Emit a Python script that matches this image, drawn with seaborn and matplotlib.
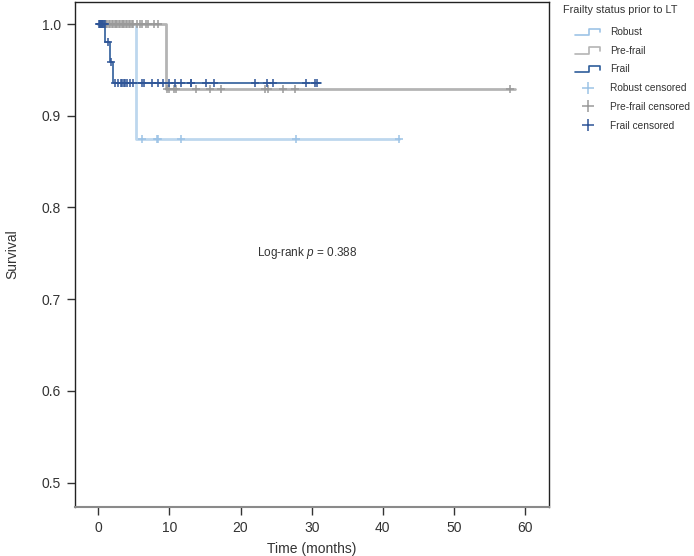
import numpy as np
import pandas as pd
import matplotlib
matplotlib.use("Agg")
import matplotlib.pyplot as plt
import seaborn as sns
from matplotlib.lines import Line2D
from matplotlib.legend_handler import HandlerBase

# ---------------- data ----------------
groups = ["Robust", "Pre-frail", "Frail"]

robust_step_t = [0.0, 5.3, 42.2]
robust_step_s = [1.0, 0.875, 0.875]
prefrail_step_t = [0.0, 9.6, 58.5]
prefrail_step_s = [1.0, 0.929, 0.929]
frail_step_t = [0.0, 1.0, 1.65, 2.15, 31.3]
frail_step_s = [1.0, 0.980, 0.959, 0.936, 0.936]

robust_cens = [6.2, 8.2, 8.4, 11.6, 27.8, 42.2]
prefrail_cens = [1.1, 1.3, 1.5, 1.7, 1.9, 2.1, 2.3, 2.5, 2.7, 2.9, 3.1, 3.3,
                 3.5, 3.7, 3.9, 4.1, 4.3, 4.5, 4.7, 4.9, 5.5, 5.9, 6.2, 6.7,
                 7.0, 7.8, 8.4,
                 9.7, 9.9, 10.6, 11.0, 13.8, 15.7, 17.3, 23.4, 23.8, 26.0,
                 27.6, 57.9]
frail_cens = [0.1, 0.2, 0.3, 0.4, 0.5, 0.6, 0.7, 0.8, 0.9, 1.4, 1.8,
              2.3, 2.8, 3.2, 3.4, 3.6, 3.8, 4.0, 4.5, 4.9, 6.2, 6.5, 7.5,
              8.4, 9.1, 10.0, 10.8, 11.6, 13.0, 13.1, 15.1, 16.3, 22.0,
              23.7, 24.6, 29.2, 30.5, 30.7]

logrank_p = 0.388
x_ticks = [0, 10, 20, 30, 40, 50, 60]
y_ticks = [0.5, 0.6, 0.7, 0.8, 0.9, 1.0]
legend_title = "Frailty status prior to LT"

# ---------------- style ----------------
sns.set_theme(style="white")
plt.rcParams["font.family"] = ["Liberation Sans", "DejaVu Sans"]
plt.rcParams["mathtext.fontset"] = "custom"
plt.rcParams["mathtext.rm"] = "Liberation Sans"
plt.rcParams["mathtext.it"] = "Liberation Sans:italic"
TXT = "#333333"

line_colors = {"Robust": "#bdd7ee", "Pre-frail": "#b4b4b4", "Frail": "#2f5d9b"}
cens_colors = {"Robust": "#9dc3e6", "Pre-frail": "#9a9a9a", "Frail": "#2f5597"}
line_widths = {"Robust": 2.0, "Pre-frail": 2.0, "Frail": 1.2}

steps = {"Robust": (robust_step_t, robust_step_s),
         "Pre-frail": (prefrail_step_t, prefrail_step_s),
         "Frail": (frail_step_t, frail_step_s)}
cens = {"Robust": robust_cens, "Pre-frail": prefrail_cens, "Frail": frail_cens}

fig = plt.figure(figsize=(6.94, 5.56), dpi=100)
ax = fig.add_axes([0.1076, 0.0881, 0.6830, 0.9083])

for g in groups:
    t, s = steps[g]
    df = pd.DataFrame({"time": t, "surv": s})
    sns.lineplot(data=df, x="time", y="surv", ax=ax, color=line_colors[g],
                 lw=line_widths[g], drawstyle="steps-post", estimator=None,
                 sort=False, legend=False)

for g in groups:
    t, s = steps[g]
    ct = np.array(cens[g])
    idx = np.searchsorted(np.array(t), ct, side="right") - 1
    cy = np.array(s)[idx]
    df = pd.DataFrame({"time": ct, "surv": cy})
    sns.scatterplot(data=df, x="time", y="surv", ax=ax, marker="+", s=40,
                    color=cens_colors[g], linewidth=1.1, legend=False, zorder=3)

ax.set_xlim(-3.3, 63.3)
ax.set_ylim(0.4735, 1.024)
ax.set_xticks(x_ticks)
ax.set_yticks(y_ticks)
ax.set_yticklabels([f"{v:.1f}" for v in y_ticks])
ax.tick_params(axis="both", direction="out", length=6, width=1, color=TXT,
               labelsize=10, labelcolor=TXT, bottom=True, left=True, pad=4)
for side in ["left", "right", "top"]:
    ax.spines[side].set_color("#222222")
    ax.spines[side].set_linewidth(1.0)
ax.spines["bottom"].set_color("#8a8a8a")
ax.spines["bottom"].set_linewidth(1.5)

ax.set_xlabel("Time (months)", fontsize=10, color=TXT, labelpad=5)
ax.set_ylabel("Survival", fontsize=10, color=TXT, labelpad=16)

ax.text(29.4, 0.750, f"Log-rank $p$ = {logrank_p}", ha="center", va="center",
        fontsize=8.5, color=TXT)


# ---------------- legend ----------------
class StepHandler(HandlerBase):
    def create_artists(self, legend, orig_handle, xdescent, ydescent,
                       width, height, fontsize, trans):
        x0 = -xdescent
        y0 = -ydescent
        xs = [x0, x0 + 0.55 * width, x0 + 0.55 * width, x0 + width, x0 + width]
        ys = [y0 + 0.0 * height, y0 + 0.0 * height, y0 + 0.9 * height,
              y0 + 0.9 * height, y0 + 0.4 * height]
        ln = Line2D(xs, ys, color=orig_handle.get_color(),
                    lw=orig_handle.get_linewidth(), transform=trans)
        return [ln]


class StepKey(Line2D):
    pass


handles, labels, hmap = [], [], {}
for g in groups:
    h = StepKey([], [], color=line_colors[g] if g != "Robust" else "#9dc3e6",
                lw=1.2)
    handles.append(h)
    labels.append(g)
    hmap[h] = StepHandler()
for g in groups:
    h = Line2D([], [], ls="none", marker="+", markersize=9, mew=1.1,
               color=cens_colors[g])
    handles.append(h)
    labels.append(f"{g} censored")

fig.text(563 / 694, 1 - 10 / 556, legend_title, ha="left", va="center",
         fontsize=7.8, color=TXT)
leg = fig.legend(handles, labels, handler_map=hmap, loc="upper left",
                 bbox_to_anchor=(575 / 694, 1 - 27 / 556), frameon=False,
                 fontsize=7.3, handlelength=2.5, handletextpad=0.95,
                 labelspacing=0.86, borderpad=0, borderaxespad=0)
for t in leg.get_texts():
    t.set_color(TXT)

fig.savefig("out.png", dpi=100)
